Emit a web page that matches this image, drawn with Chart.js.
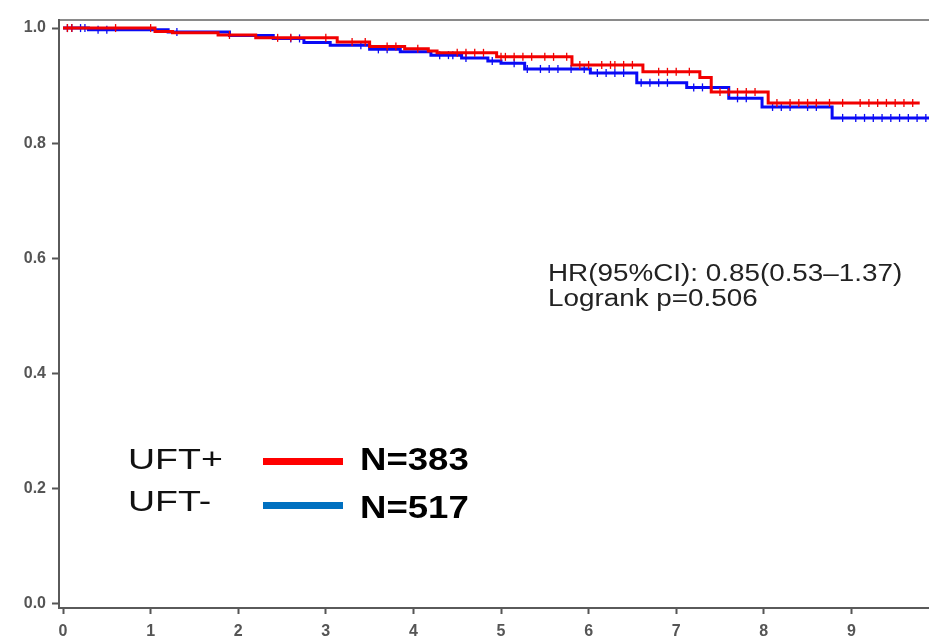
<!DOCTYPE html>
<html>
<head>
<meta charset="utf-8">
<script src="https://cdn.jsdelivr.net/npm/chart.js@4/dist/chart.umd.min.js"></script>
<style>
  html, body { margin: 0; padding: 0; background: #fff; overflow: hidden; }
  #wrap { width: 929px; height: 643px; }
</style>
</head>
<body>
<div id="wrap"><canvas id="km" width="929" height="643"></canvas></div>
<script>
// step points (time in years, survival)
const redTimes  = [0, 1.05, 1.25, 1.77, 2.2, 3.13, 3.5, 3.9, 4.17, 4.27, 4.95, 5.81, 6.62, 7.27, 7.4, 8.05, 9.78];
const redSurv   = [1.0, 0.994, 0.992, 0.988, 0.983, 0.976, 0.968, 0.964, 0.960, 0.957, 0.950, 0.936, 0.924, 0.914, 0.889, 0.870, 0.870];
const blueTimes = [0, 0.29, 1.2, 1.9, 2.4, 2.75, 3.05, 3.5, 3.85, 4.2, 4.55, 4.85, 5.0, 5.27, 6.02, 6.55, 7.12, 7.6, 7.98, 8.78, 9.95];
const blueSurv  = [1.0, 0.997, 0.993, 0.987, 0.982, 0.975, 0.970, 0.963, 0.959, 0.953, 0.948, 0.943, 0.939, 0.929, 0.922, 0.905, 0.897, 0.878, 0.863, 0.844, 0.844];

// censoring marks (times)
const redCensor  = [0.05, 0.1, 0.6, 1.0, 1.9, 2.45, 2.6, 3.0, 3.3, 3.45, 3.7, 3.8, 4.05, 4.5, 4.6, 4.7, 4.8, 5.0, 5.05, 5.15, 5.25, 5.35, 5.5, 5.6, 5.75, 5.9, 6.0, 6.15, 6.25, 6.3, 6.4, 6.5, 6.8, 6.9, 7.0, 7.15, 7.5, 7.6, 7.7, 7.8, 7.9, 8.15, 8.3, 8.4, 8.5, 8.6, 8.75, 8.9, 9.1, 9.2, 9.3, 9.4, 9.5, 9.6, 9.7];
const blueCensor = [0.05, 0.1, 0.2, 0.25, 0.4, 0.5, 1.3, 2.6, 2.7, 3.4, 3.6, 3.7, 4.3, 4.4, 4.45, 4.6, 4.9, 5.15, 5.3, 5.45, 5.55, 5.65, 5.8, 5.95, 6.1, 6.2, 6.3, 6.4, 6.6, 6.7, 6.8, 6.9, 7.2, 7.3, 7.4, 7.7, 7.8, 8.1, 8.2, 8.3, 8.5, 8.6, 8.9, 9.05, 9.15, 9.25, 9.35, 9.45, 9.55, 9.65, 9.75, 9.85];

const xTicks = [0, 1, 2, 3, 4, 5, 6, 7, 8, 9];
const yTicks = [0, 0.2, 0.4, 0.6, 0.8, 1.0];

const groupNames = ['UFT+', 'UFT-'];
const groupN = ['N=383', 'N=517'];
const statLines = ['HR(95%CI): 0.85(0.53\u20131.37)', 'Logrank p=0.506'];

const RED = '#f20000';
const BLUE = '#0a0af5';

function toPoints(times, surv) {
  return times.map((t, i) => ({ x: t, y: surv[i] }));
}

// survival value at time t (for placing the censor ticks on the curve)
function survAt(times, surv, t) {
  let s = surv[0];
  for (let i = 0; i < times.length; i++) {
    if (times[i] <= t) s = surv[i];
  }
  return s;
}

function censorPoints(cens, times, surv) {
  return cens.map(t => ({ x: t, y: survAt(times, surv, t) }));
}

function drawScaledText(ctx, text, x, y, font, color, sx) {
  ctx.save();
  ctx.translate(x, y);
  ctx.scale(sx, 1);
  ctx.font = font;
  ctx.fillStyle = color;
  ctx.textBaseline = 'alphabetic';
  ctx.textAlign = 'left';
  ctx.fillText(text, 0, 0);
  ctx.restore();
}

const overlay = {
  id: 'overlay',
  afterDraw(chart) {
    const ctx = chart.ctx;
    // stats text
    drawScaledText(ctx, statLines[0], 548, 281, '23px "Liberation Sans", Arial', '#222', 1.21);
    drawScaledText(ctx, statLines[1], 548, 306, '23px "Liberation Sans", Arial', '#222', 1.21);

    // legend
    drawScaledText(ctx, groupNames[0], 128, 469, '30px "Liberation Sans", Arial', '#111', 1.25);
    drawScaledText(ctx, groupNames[1], 128, 511, '30px "Liberation Sans", Arial', '#111', 1.25);
    ctx.save();
    ctx.fillStyle = '#ff0000';
    ctx.fillRect(263, 458, 80, 7);
    ctx.fillStyle = '#0070c0';
    ctx.fillRect(263, 502, 80, 7);
    ctx.restore();
    drawScaledText(ctx, groupN[0], 360, 470, 'bold 31px "Liberation Sans", Arial', '#000', 1.18);
    drawScaledText(ctx, groupN[1], 360, 518, 'bold 31px "Liberation Sans", Arial', '#000', 1.18);
  }
};

const axisFont = { family: '"Liberation Sans", Arial', size: 16, weight: 'bold' };

new Chart(document.getElementById('km'), {
  type: 'line',
  data: {
    datasets: [
      {
        label: groupNames[0],
        data: toPoints(redTimes, redSurv),
        borderColor: RED,
        borderWidth: 3,
        stepped: true,
        pointRadius: 0,
        fill: false
      },
      {
        label: groupNames[0] + ' censored',
        data: censorPoints(redCensor, redTimes, redSurv),
        showLine: false,
        pointStyle: 'line',
        rotation: 90,
        pointRadius: 4,
        borderColor: RED,
        borderWidth: 1.3
      },
      {
        label: groupNames[1],
        data: toPoints(blueTimes, blueSurv),
        borderColor: BLUE,
        borderWidth: 3,
        stepped: true,
        pointRadius: 0,
        fill: false
      },
      {
        label: groupNames[1] + ' censored',
        data: censorPoints(blueCensor, blueTimes, blueSurv),
        showLine: false,
        pointStyle: 'line',
        rotation: 90,
        pointRadius: 4,
        borderColor: BLUE,
        borderWidth: 1.3
      }
    ]
  },
  options: {
    responsive: false,
    animation: false,
    layout: { autoPadding: false, padding: { left: 0, right: 0, top: 0, bottom: 0 } },
    plugins: {
      legend: { display: false },
      tooltip: { enabled: false },
      title: { display: false }
    },
    scales: {
      x: {
        type: 'linear',
        position: 'bottom',
        min: -0.046,
        max: 9.886,
        afterBuildTicks: s => { s.ticks = xTicks.map(v => ({ value: v })); },
        afterFit: s => { s.height = 35; s.paddingRight = 0; },
        ticks: {
          callback: v => String(v),
          color: '#555',
          font: axisFont,
          padding: 8,
          maxRotation: 0
        },
        grid: {
          drawOnChartArea: false,
          drawTicks: true,
          tickLength: 6,
          tickColor: '#555',
          tickWidth: 2
        },
        border: { display: true, color: '#5a5a5a', width: 2 }
      },
      xTop: {
        type: 'linear',
        position: 'top',
        min: -0.046,
        max: 9.886,
        afterFit: s => { s.height = 20; s.paddingRight = 0; },
        ticks: { display: false },
        grid: { display: false, drawTicks: false },
        border: { display: true, color: '#8a8a8a', width: 2 }
      },
      y: {
        type: 'linear',
        min: -0.007,
        max: 1.014,
        afterBuildTicks: s => { s.ticks = yTicks.map(v => ({ value: v })); },
        afterFit: s => { s.width = 59; },
        ticks: {
          callback: v => v.toFixed(1),
          color: '#555',
          font: axisFont,
          padding: 6
        },
        grid: {
          drawOnChartArea: false,
          drawTicks: true,
          tickLength: 7,
          tickColor: '#555',
          tickWidth: 2
        },
        border: { display: true, color: '#5a5a5a', width: 2 }
      }
    }
  },
  plugins: [overlay]
});
</script>
</body>
</html>
